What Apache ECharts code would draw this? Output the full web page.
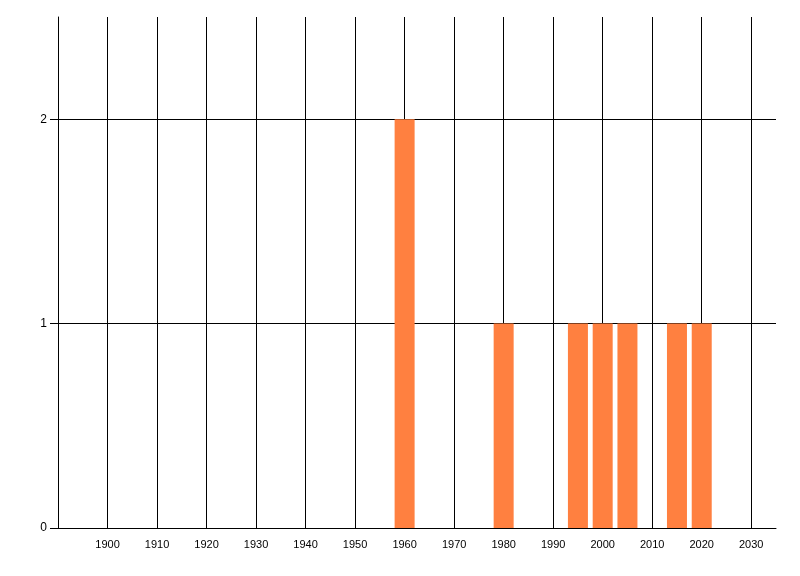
<!doctype html>
<html>
<head>
    <title>Bar chart</title>
    <script src="https://cdn.jsdelivr.net/npm/echarts@6/dist/echarts.min.js"></script>
</head>
<style>
    html, body { margin: 0; padding: 0; background: #fff; }
    #chart { width: 800px; height: 576px; }
</style>
<body>
<div id="chart"></div>
<script>
  var years = [1960, 1980, 1995, 2000, 2005, 2015, 2020];
  var counts = [2, 1, 1, 1, 1, 1, 1];
  var xTicks = [1890, 1900, 1910, 1920, 1930, 1940, 1950, 1960, 1970, 1980, 1990, 2000, 2010, 2020, 2030];
  var xLabels = [1900, 1910, 1920, 1930, 1940, 1950, 1960, 1970, 1980, 1990, 2000, 2010, 2020, 2030];
  var yTicks = [0, 1, 2];

  var myChart = echarts.init(document.getElementById('chart'));

  var font = { fontFamily: 'Liberation Sans', fontSize: 11, color: '#000' };
  function plain(v) { return String(v); }

  myChart.setOption({
    animation: false,
    backgroundColor: '#fff',
    grid: { left: 58, right: 24, top: 17, bottom: 48 },
    xAxis: {
      type: 'value',
      min: 1890,
      max: 2035,
      interval: 10,
      axisLine: { show: true, lineStyle: { color: '#000', width: 1 } },
      axisTick: { show: false, customValues: xTicks },
      axisLabel: Object.assign({ customValues: xLabels, margin: 7, formatter: plain }, font),
      splitLine: { show: true, lineStyle: { color: '#000', width: 1 } }
    },
    yAxis: {
      type: 'value',
      min: 0,
      max: 2.5,
      interval: 1,
      axisLine: { show: true, lineStyle: { color: '#000', width: 1 } },
      axisTick: { show: true, length: 8, customValues: yTicks, lineStyle: { color: '#000' } },
      axisLabel: Object.assign({ customValues: yTicks, margin: 11, formatter: plain, fontSize: 12 }, font, { fontSize: 12 }),
      splitLine: { show: true, lineStyle: { color: '#000', width: 1 } }
    },
    series: [{
      type: 'bar',
      barWidth: 20,
      itemStyle: { color: '#FF8040' },
      data: years.map(function (y, i) { return [y, counts[i]]; })
    }]
  });
</script>
</body>
</html>
